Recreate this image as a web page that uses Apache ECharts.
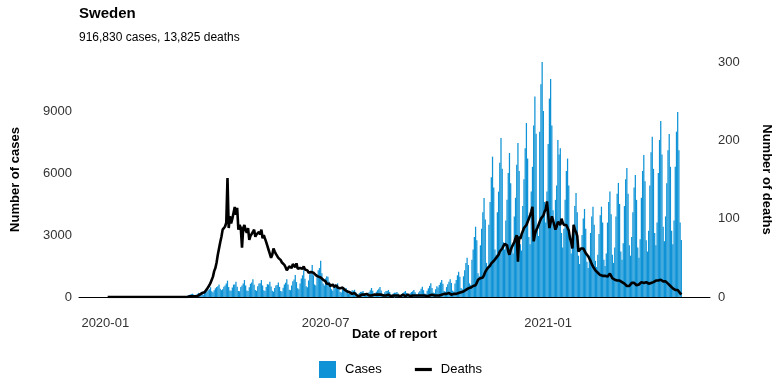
<!DOCTYPE html>
<html><head><meta charset="utf-8">
<script src="https://cdn.jsdelivr.net/npm/echarts@6/dist/echarts.min.js"></script>
<style>html,body{margin:0;padding:0;background:#fff}#c{width:784px;height:392px}</style>
</head><body><div id="c"></div>
<script>
// ---- data (daily, starting 2020-01-03) ----
const startDate = [2020, 0, 3];
const xTickLabels = ['2020-01', '2020-07', '2021-01'];
const leftTicks = [0, 3000, 6000, 9000];
const rightTicks = [0, 100, 200, 300];

const casesEarly2020 = [
  0,0,0,0,0,0,0, 0,0,0,0,0,0,0, 0,0,0,0,0,0,0, 0,0,0,0,0,0,0,
  1,0,0,0,0,0,0, 0,0,0,0,0,0,0, 0,0,0,0,0,0,0, 0,0,0,0,1,5,1,
  5,1,2,1,3,14,26, 37,34,41,63,100,112,140, 160,120,85,110,150,200,160,
  210,180,110,240,310,270,330, 380,470,280,230,330,420,480
];
const casesSpring2020 = [
  520,610,400,330,380,500,560, 650,790,480,320,300,460,600,
  610,740,500,290,280,480,560, 650,820,560,310,290,470,640,
  700,860,590,340,300,520,650, 660,820,560,330,290,480,620,
  610,740,510,300,260,430,560, 580,700,490,290,270,450,600,
  690,860,600,350,330,560,760, 850,1060,720,420,380,650,900,
  1050,1300,880,520,470,800,1100, 1250,1550,1050,600,560,950,1300,
  1400,1760,1150,650,560,900,1000
];
const casesSummer2020 = [
  980,740,600,380,300,520,620, 560,660,450,260,220,380,480,
  400,430,300,170,150,260,330, 300,350,230,130,110,200,250,
  250,290,190,100,90,180,230, 330,435,300,150,120,250,330,
  400,480,320,160,130,230,290, 290,340,240,120,100,170,210,
  200,240,170,90,80,150,190, 240,290,200,100,90,180,240,
  280,340,230,120,100,220,290, 400,500,330,170,140,300,420,
  540,660,440,220,190,380,520
];
const casesAutumn2020 = [
  460,580,700,820,640,290,250, 480,620,740,860,680,310,270,
  650,820,1050,1225,980,430,380, 1000,1300,1650,1900,1550,660,580,
  1800,2300,2900,3400,2750,1150,1000, 2500,3300,4100,4790,3750,1650,1450,
  3500,4600,5800,6790,5300,2300,2050, 4100,5100,6500,7690,6200,2650,2300,
  3700,4700,6000,6970,5500,2400,2100, 3900,4800,6400,7450,6100,2550,2250,
  4400,5700,7200,8420,6700,2900,2550, 5100,6300,8300,9700,7900,3300,2950,
  8000,10300,11420,9000,4600,3600,5100, 7400,9600,10550,8300,4200,3400,4700
];
const cases2021 = [
  5400,7600,6900,7200,3100,2400,3300, 4700,6100,6700,5400,2700,2100,3000,
  3500,4400,5030,4100,2000,1600,2300, 3000,3800,4260,3300,1700,1400,2000,
  3100,3900,4370,3500,1750,1450,2050, 3050,3950,4370,3600,1800,1500,2100,
  3600,4600,5100,4000,2050,1650,2400, 3900,5000,5520,4500,2200,1800,2600,
  4400,5700,6240,5000,2500,2000,2900, 4100,5300,5900,4700,2400,1900,2800,
  4800,6100,6870,5600,2750,2200,3200, 5400,7000,7760,6200,3100,2500,3600,
  6000,7600,8520,6900,3400,2700,3900, 5500,7100,7890,6300,3200,2550,3700,
  6300,8000,8950,7100,3600,2760
];

const deathsEarly2020 = [
  0,0,0,0,0,0,0, 0,0,0,0,0,0,0, 0,0,0,0,0,0,0, 0,0,0,0,0,0,0,
  0,0,0,0,0,0,0, 0,0,0,0,0,0,0, 0,0,0,0,0,0,0, 0,0,0,0,0,0,0,
  0,0,0,0,0,0,0, 0,0,0,0,0,1,0, 1,0,1,2,1,3,3,
  4,5,3,6,8,10,12, 15,18,22,26,33,37,44
];
const deathsSpring2020 = [
  54,62,70,77,86,84,90, 95,152,88,103,94,100,98,
  115,105,114,86,92,88,63, 88,92,85,82,88,73,78,
  80,83,86,77,80,78,83, 80,86,75,79,77,70,68,
  60,55,50,54,62,58,55, 54,50,52,47,44,45,41,
  38,34,36,39,40,37,42, 41,38,43,36,34,37,39,
  36,39,35,33,34,31,30, 32,34,31,30,28,29,26,
  26,25,23,22,22,20,17
];
const deathsSummer2020 = [
  15,17,14,15,16,13,14, 15,12,13,11,10,12,10,
  9,9,7,8,6,5,4, 4,5,3,2,3,1,3,
  3,4,3,2,4,3,2, 3,2,4,3,2,3,4,
  3,2,3,4,2,3,2, 2,3,2,1,3,2,3,
  2,3,2,3,1,2,3, 2,1,2,3,2,1,2,
  2,3,2,1,2,3,2, 1,2,3,2,2,1,3,
  2,2,3,1,2,3,2
];
const deathsAutumn2020 = [
  3,2,4,3,2,4,3, 4,3,5,4,3,5,4,
  5,4,6,5,7,6,7, 7,8,9,10,11,10,12,
  12,14,13,15,18,22,21, 24,26,25,28,32,34,37,
  38,40,43,42,46,48,50, 51,54,58,60,62,65,68,
  69,66,58,54,60,64,63, 70,75,79,45,77,74,80,
  84,88,90,92,94,100,104, 109,115,71,80,85,88,92,
  96,100,98,104,109,112,122, 105,88,95,103,98,92,86
];
const deaths2021 = [
  90,96,94,92,100,95,92, 90,92,90,85,75,70,62,
  92,86,83,78,58,60,62, 64,62,60,56,54,52,51,
  46,42,39,37,34,33,31, 30,28,29,27,26,27,25,
  26,28,30,27,24,23,22, 23,21,20,21,20,19,18,
  17,16,14,15,14,16,18, 20,18,16,15,17,16,18,
  19,20,18,17,19,18,17, 16,18,17,19,20,21,22,
  21,20,22,21,20,19,20, 19,17,16,14,13,11,10,
  9,8,9,7,5,3
];

const cases = [].concat(casesEarly2020, casesSpring2020, casesSummer2020, casesAutumn2020, cases2021);
const deaths = [].concat(deathsEarly2020, deathsSpring2020, deathsSummer2020, deathsAutumn2020, deaths2021);

// ---- build ----
const t0 = +new Date(startDate[0], startDate[1], startDate[2]);
const nDays = cases.length;
const dates = [];
for (let i = 0; i < nDays; i++) dates.push(+new Date(startDate[0], startDate[1], startDate[2] + i));
const span = dates[nDays - 1] - t0;
const xMin = t0 - span * 0.05;
const xMax = dates[nDays - 1] + span * 0.05;
const xTickValues = xTickLabels.map(s => { const p = s.split('-'); return +new Date(+p[0], +p[1] - 1, 1); });

const casePairs = cases.map((v, i) => [dates[i], v]);
const deathPairs = deaths.map((v, i) => [dates[i], v]);

const FONT = '"Liberation Sans", Arial, Helvetica, sans-serif';
const chart = echarts.init(document.getElementById('c'), null, {renderer: 'canvas'});
chart.setOption({
  animation: false,
  backgroundColor: '#fff',
  textStyle: {fontFamily: FONT},
  title: [
    {text: 'Sweden', left: 79, top: 6, padding: 0, textStyle: {fontFamily: FONT, fontSize: 15, fontWeight: 'bold', color: '#000'}},
    {text: '916,830 cases, 13,825 deaths', left: 79, top: 32, padding: 0, textStyle: {fontFamily: FONT, fontSize: 12, fontWeight: 'normal', color: '#000'}}
  ],
  legend: {
    left: 319, top: 361, padding: 0, itemWidth: 17, itemHeight: 17, itemGap: 33, symbolKeepAspect: true,
    textStyle: {fontFamily: FONT, fontSize: 13, color: '#000', padding: [0, 0, 0, 4]},
    data: [
      {name: 'Cases', icon: 'rect'},
      {name: 'Deaths', icon: 'path://M0,0h16v3h-16z', itemStyle: {color: '#000'}}
    ]
  },
  grid: {left: 79, right: 74, top: 62, bottom: 95, containLabel: false, outerBoundsMode: 'none'},
  xAxis: {
    type: 'value', min: xMin, max: xMax, offset: 12, scale: true,
    name: 'Date of report', nameLocation: 'middle', nameGap: 19, nameMoveOverlap: false,
    nameTextStyle: {fontFamily: FONT, fontSize: 13, fontWeight: 'bold', color: '#000', verticalAlign: 'top'},
    axisLine: {show: true, lineStyle: {color: '#000', width: 1}},
    axisTick: {show: false},
    splitLine: {show: false},
    axisLabel: {
      customValues: xTickValues, margin: 8, fontFamily: FONT, fontSize: 13, color: '#333',
      formatter: v => { const d = new Date(v); return d.getFullYear() + '-' + String(d.getMonth() + 1).padStart(2, '0'); }
    }
  },
  yAxis: [
    {
      type: 'value', min: 0, max: 11371, interval: 3000, position: 'left',
      name: 'Number of cases', nameLocation: 'middle', nameGap: 57, nameMoveOverlap: false,
      nameTextStyle: {fontFamily: FONT, fontSize: 13, fontWeight: 'bold', color: '#000'},
      axisLine: {show: false}, axisTick: {show: false}, splitLine: {show: false},
      axisLabel: {customValues: leftTicks, margin: 7, fontFamily: FONT, fontSize: 13, color: '#333', formatter: v => String(v)}
    },
    {
      type: 'value', min: 0, max: 300, interval: 100, position: 'right',
      name: 'Number of deaths', nameLocation: 'middle', nameGap: 50, nameRotate: -90, nameMoveOverlap: false,
      nameTextStyle: {fontFamily: FONT, fontSize: 13, fontWeight: 'bold', color: '#000'},
      axisLine: {show: false}, axisTick: {show: false}, splitLine: {show: false},
      axisLabel: {customValues: rightTicks, margin: 8, fontFamily: FONT, fontSize: 13, color: '#333', formatter: v => String(v)}
    }
  ],
  series: [
    {
      name: 'Cases', type: 'bar', yAxisIndex: 0, data: casePairs, barWidth: 1.25,
      itemStyle: {color: '#0f93d6'}, z: 2
    },
    {
      name: 'Deaths', type: 'line', yAxisIndex: 1, data: deathPairs, symbol: 'none', showSymbol: false,
      lineStyle: {color: '#000', width: 2.6}, itemStyle: {color: '#000'}, z: 3
    }
  ]
});
</script>
</body></html>
